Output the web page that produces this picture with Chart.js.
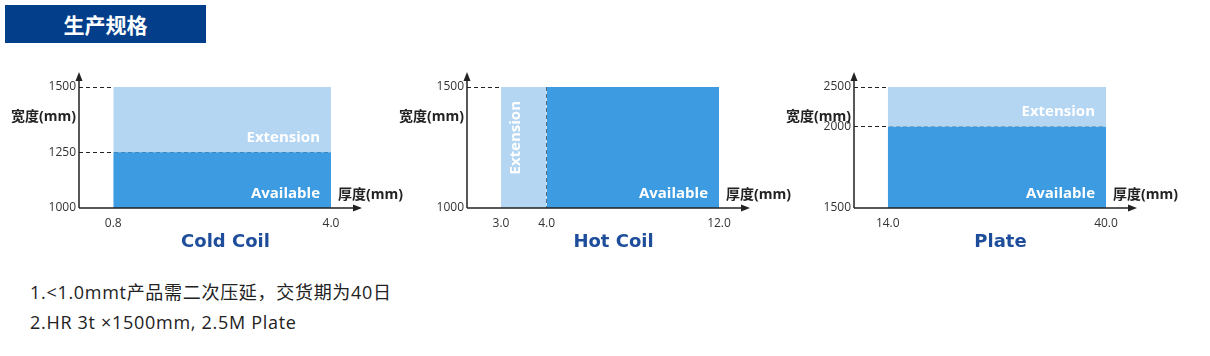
<!DOCTYPE html>
<html lang="zh-CN"><head><meta charset="utf-8">
<title>生产规格</title>
<script src="https://cdn.jsdelivr.net/npm/chart.js@4.4.1/dist/chart.umd.min.js"></script>
<style>
html,body{margin:0;padding:0;background:#fff;}
body{position:relative;width:1210px;height:356px;overflow:hidden;}
#hdr{position:absolute;left:5px;top:5px;width:201px;height:38px;background:#023e8a;color:#fff;font-family:'Noto Sans CJK SC',sans-serif;font-weight:700;font-size:21px;line-height:38px;text-align:center;}
canvas{position:absolute;top:60px;}
#notes{position:absolute;left:30px;top:277px;font-family:'Open Sans','Noto Sans CJK SC',sans-serif;font-size:18px;line-height:30px;color:#222;white-space:nowrap;letter-spacing:0.7px;}
</style></head><body>
<div id="hdr">生产规格</div>
<canvas id="cold" width="410" height="200" style="left:0px"></canvas>
<canvas id="hot" width="410" height="200" style="left:388px"></canvas>
<canvas id="plate" width="410" height="200" style="left:775px"></canvas>
<div id="notes"><div>1.&lt;1.0mmt产品需二次压延，交货期为40日</div><div>2.HR 3t ×1500mm, 2.5M Plate</div></div>
<script>
// ---------------- data (mm) ----------------
const chartNames = ['Cold Coil', 'Hot Coil', 'Plate'];
const xAxisTitle = '厚度(mm)';
const yAxisTitle = '宽度(mm)';
const availableName = 'Available';
const extensionName = 'Extension';

const coldThickTicks = [0.8, 4.0];
const coldWidthTicks = [1000, 1250, 1500];
const coldAvailThick = [0.8, 4.0];
const coldAvailWidth = [1000, 1250];
const coldExtThick = [0.8, 4.0];
const coldExtWidth = [1250, 1500];

const hotThickTicks = [3.0, 4.0, 12.0];
const hotWidthTicks = [1000, 1500];
const hotAvailThick = [4.0, 12.0];
const hotAvailWidth = [1000, 1500];
const hotExtThick = [3.0, 4.0];
const hotExtWidth = [1000, 1500];

const plateThickTicks = [14.0, 40.0];
const plateWidthTicks = [1500, 2000, 2500];
const plateAvailThick = [14.0, 40.0];
const plateAvailWidth = [1500, 2000];
const plateExtThick = [14.0, 40.0];
const plateExtWidth = [2000, 2500];

// ---------------- schematic (non-proportional) scale ----------------
class StopScale extends Chart.LinearScale {
  static id = 'stops';
  _pairs() { const o = this.options; return o.tickValues.map((v, i) => [v, o.positions[i]]); }
  _frac(v) {
    const s = this._pairs();
    let i = 0; while (i < s.length - 2 && v > s[i + 1][0]) i++;
    const a = s[i], b = s[i + 1];
    return a[1] + (v - a[0]) * (b[1] - a[1]) / (b[0] - a[0]);
  }
  _inv(f) {
    const s = this._pairs();
    let i = 0; while (i < s.length - 2 && f > s[i + 1][1]) i++;
    const a = s[i], b = s[i + 1];
    return a[0] + (f - a[1]) * (b[0] - a[0]) / (b[1] - a[1]);
  }
  determineDataLimits() { this.min = this._inv(0); this.max = this._inv(1); }
  buildTicks() { this.start = this.min; this.end = this.max; return this.options.tickValues.map(v => ({value: v})); }
  getPixelForValue(v) { return this.getPixelForDecimal(this._frac(v)); }
  getValueForPixel(p) { return this._inv(this.getDecimalForPixel(p)); }
}
Chart.register(StopScale);

Chart.defaults.font.family = "'Open Sans','Noto Sans CJK SC',sans-serif";
Chart.defaults.color = '#333';

const LIGHT = '#b4d6f2';
const DARK = '#3d9be1';
const INK = '#222';

function band(thick, width, color, label, vertical) {
  return {
    type: 'line', label,
    data: [{x: thick[0], y: width[1]}, {x: thick[1], y: width[1]}],
    fill: {value: width[0]},
    backgroundColor: color, borderColor: 'rgba(0,0,0,0)', borderWidth: 0,
    pointRadius: 0, pointHoverRadius: 0, vertical: !!vertical
  };
}

const schematic = {
  id: 'schematic',
  afterDatasetsDraw(chart) {
    const {ctx} = chart; const x = chart.scales.x, y = chart.scales.y;
    chart.data.datasets.forEach(ds => {
      const x0 = x.getPixelForValue(ds.data[0].x), x1 = x.getPixelForValue(ds.data[ds.data.length - 1].x);
      const yTop = y.getPixelForValue(ds.data[0].y), yBot = y.getPixelForValue(ds.fill.value);
      ctx.save();
      ctx.fillStyle = '#fff';
      ctx.font = "700 15px 'Open Sans'";
      ctx.textBaseline = 'middle'; ctx.textAlign = 'right';
      if (ds.vertical) {
        ctx.translate(x0 + 15, yTop + 14); ctx.rotate(-Math.PI / 2);
        ctx.fillText(ds.label, 0, 0);
      } else {
        ctx.fillText(ds.label, x1 - 11, yBot - 14.5);
      }
      ctx.restore();
    });
  },
  afterDraw(chart, args, opts) {
    const {ctx, chartArea: a} = chart;
    const ox = a.left, oy = a.bottom, xTip = a.right + 31, yTip = a.top - 15;
    ctx.save();
    ctx.strokeStyle = INK; ctx.fillStyle = INK; ctx.lineWidth = 1.5;
    ctx.beginPath();
    ctx.moveTo(ox, oy); ctx.lineTo(xTip - 8, oy);
    ctx.moveTo(ox, oy); ctx.lineTo(ox, yTip + 8);
    ctx.stroke();
    ctx.beginPath(); ctx.moveTo(xTip, oy); ctx.lineTo(xTip - 9, oy - 3.5); ctx.lineTo(xTip - 9, oy + 3.5); ctx.closePath(); ctx.fill();
    ctx.beginPath(); ctx.moveTo(ox, yTip); ctx.lineTo(ox - 3.5, yTip + 9); ctx.lineTo(ox + 3.5, yTip + 9); ctx.closePath(); ctx.fill();
    ctx.font = "700 14px 'Open Sans','Noto Sans CJK SC'";
    ctx.textBaseline = 'middle';
    ctx.textAlign = 'right'; ctx.fillText(opts.yTitle, ox - 3, a.top + 29.7);
    ctx.textAlign = 'left'; ctx.fillText(opts.xTitle, a.right + 7, oy - 13);
    ctx.font = "700 18px 'DejaVu Sans'"; ctx.fillStyle = '#1d4d9b'; ctx.textAlign = 'center';
    ctx.fillText(opts.name, (ox + xTip) / 2 + 5, oy + 34);
    ctx.restore();
  }
};

function makeChart(id, name, xTicks, xPos, yTicks, yPos, datasets, xDashAt) {
  return new Chart(document.getElementById(id), {
    type: 'line',
    data: {datasets},
    plugins: [schematic],
    options: {
      responsive: false, animation: false, devicePixelRatio: 1, events: [],
      layout: {padding: {left: 0, right: 79, top: 27, bottom: 0}},
      plugins: {
        legend: {display: false}, tooltip: {enabled: false},
        schematic: {name, xTitle: xAxisTitle, yTitle: yAxisTitle}
      },
      scales: {
        x: {
          type: 'stops', position: 'bottom', tickValues: xTicks, positions: xPos, z: 1,
          grid: {drawTicks: false, lineWidth: 1,
                 color: c => (c.tick && xDashAt.includes(c.tick.value)) ? INK : 'rgba(0,0,0,0)'},
          border: {display: false, dash: [4, 3]},
          ticks: {autoSkip: false, maxRotation: 0, padding: 8, color: '#333', font: {size: 12},
                  callback: v => Number(v).toFixed(1)},
          afterFit: s => { s.height = 52; }
        },
        y: {
          type: 'stops', position: 'left', tickValues: yTicks, positions: yPos, z: 1,
          grid: {drawTicks: false, lineWidth: 1,
                 color: c => (c.tick && c.tick.value !== yTicks[0]) ? INK : 'rgba(0,0,0,0)'},
          border: {display: false, dash: [4, 3]},
          ticks: {autoSkip: false, padding: 3, color: '#333', font: {size: 12},
                  callback: v => String(v)},
          afterFit: s => { s.width = 79; }
        }
      }
    }
  });
}

makeChart('cold', chartNames[0], coldThickTicks, [0.136, 1], coldWidthTicks, [0, 0.46, 1], [
  band(coldAvailThick, coldAvailWidth, DARK, availableName),
  band(coldExtThick, coldExtWidth, LIGHT, extensionName)
], []);

makeChart('hot', chartNames[1], hotThickTicks, [0.135, 0.316, 1], hotWidthTicks, [0, 1], [
  band(hotAvailThick, hotAvailWidth, DARK, availableName),
  band(hotExtThick, hotExtWidth, LIGHT, extensionName, true)
], [hotAvailThick[0]]);

makeChart('plate', chartNames[2], plateThickTicks, [0.134, 1], plateWidthTicks, [0, 0.672, 1], [
  band(plateAvailThick, plateAvailWidth, DARK, availableName),
  band(plateExtThick, plateExtWidth, LIGHT, extensionName)
], []);
</script>
</body></html>
